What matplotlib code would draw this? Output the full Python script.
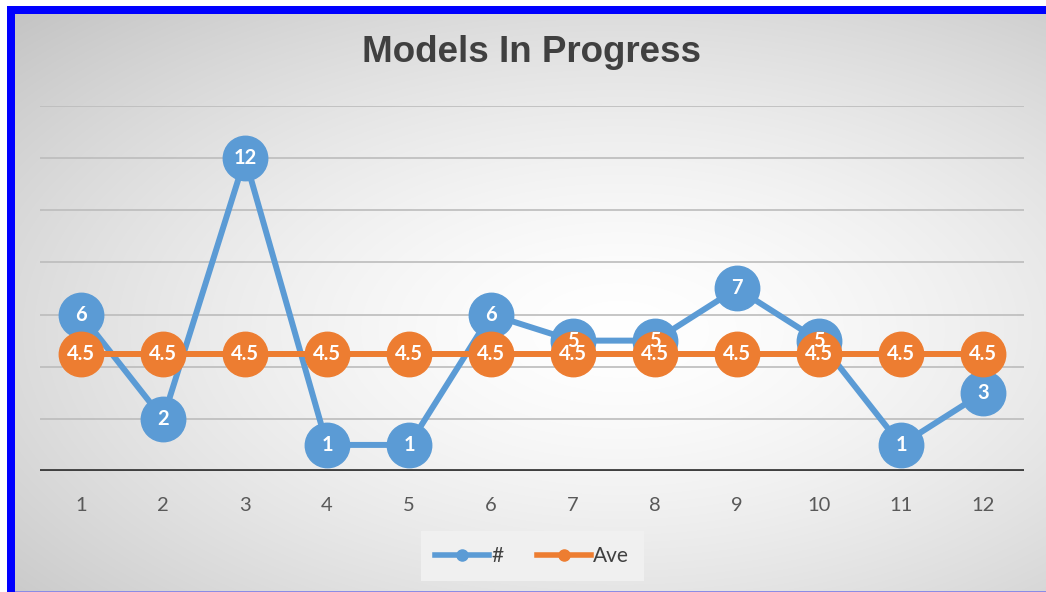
import numpy as np
import matplotlib
matplotlib.use('Agg')
import matplotlib.pyplot as plt
from matplotlib.lines import Line2D

# data
months = [1, 2, 3, 4, 5, 6, 7, 8, 9, 10, 11, 12]
counts = [6, 2, 12, 1, 1, 6, 5, 5, 7, 5, 1, 3]
ave = [4.5] * 12

blue = '#5b9bd5'
orange = '#ed7d31'

W, H = 1046, 592
fig = plt.figure(figsize=(W / 100, H / 100), dpi=100)

# background: white, blue frame, radial grey gradient
yy, xx = np.mgrid[0:H, 0:W]
r = np.sqrt(((xx - 620) / 620.0) ** 2 + ((yy - 330) / 330.0) ** 2)
val = np.clip(255 - 37 * r ** 1.5, 192, 255) / 255.0
bg = np.ones((H, W, 3))
bg[:, :, 0] = val
bg[:, :, 1] = val
bg[:, :, 2] = val
bg[(yy >= 6) & (xx >= 7) & ((yy < 14) | (xx < 15))] = [0, 0, 1]
bg[(yy < 6) | (xx < 7)] = [1, 1, 1]
bg[H - 1, 15:] = [0.55, 0.55, 0.9]
fig.figimage(bg, xo=0, yo=0, zorder=-5)

ax = fig.add_axes([40 / W, 0.2044, 984 / W, 0.6166])
ax.patch.set_alpha(0)

ax.plot(months, counts, color=blue, lw=4.3, marker='o', ms=32,
        mec=blue, mfc=blue, zorder=3, label='#', solid_joinstyle='round')
ax.plot(months, ave, color=orange, lw=4.3, marker='o', ms=32,
        mec=orange, mfc=orange, zorder=4, label='Ave')

for x, v in zip(months, counts):
    ax.text(x, v, str(v), ha='center', va='center', color='white',
            fontsize=14.5, fontweight='bold', family='Lato', zorder=6)
for x, v in zip(months, ave):
    ax.text(x, v, str(v), ha='center', va='center', color='white',
            fontsize=14.5, fontweight='bold', family='Lato', zorder=6)

ax.set_xlim(0.5, 12.5)
ax.set_ylim(0, 14)
ax.set_yticks(range(0, 15, 2))
ax.set_yticklabels([])
ax.set_xticks(months)
ax.set_xticklabels([str(m) for m in months], fontsize=14.5, family='Lato',
                   color='#595959')
ax.tick_params(axis='both', length=0)
ax.tick_params(axis='x', pad=19)
ax.grid(axis='y', color='#bcbcbc', lw=1.2, zorder=0)
ax.axhline(0, color='#404040', lw=3.5, zorder=2)
for s in ax.spines.values():
    s.set_visible(False)

fig.text(532 / W, (H - 52) / H, 'Models In Progress', ha='center', va='center',
         fontsize=26.5, fontweight='bold', family='Liberation Sans', color='#404040')

handles = [Line2D([], [], color=blue, lw=4, marker='o', ms=8),
           Line2D([], [], color=orange, lw=4, marker='o', ms=8)]
leg = fig.legend(handles, ['#', 'Ave'], loc='center', ncol=2,
                 bbox_to_anchor=(532 / W, (H - 556) / H), frameon=True,
                 prop={'family': 'Lato', 'size': 15}, handlelength=2.6,
                 handletextpad=0.1, columnspacing=1.6, borderpad=0.4)
leg.get_frame().set_facecolor('#f0f0f0')
leg.get_frame().set_edgecolor('none')
leg.get_frame().set_alpha(1)
leg.get_frame().set_boxstyle('square')
for t in leg.get_texts():
    t.set_color('#404040')

fig.savefig('out.png', dpi=100)
